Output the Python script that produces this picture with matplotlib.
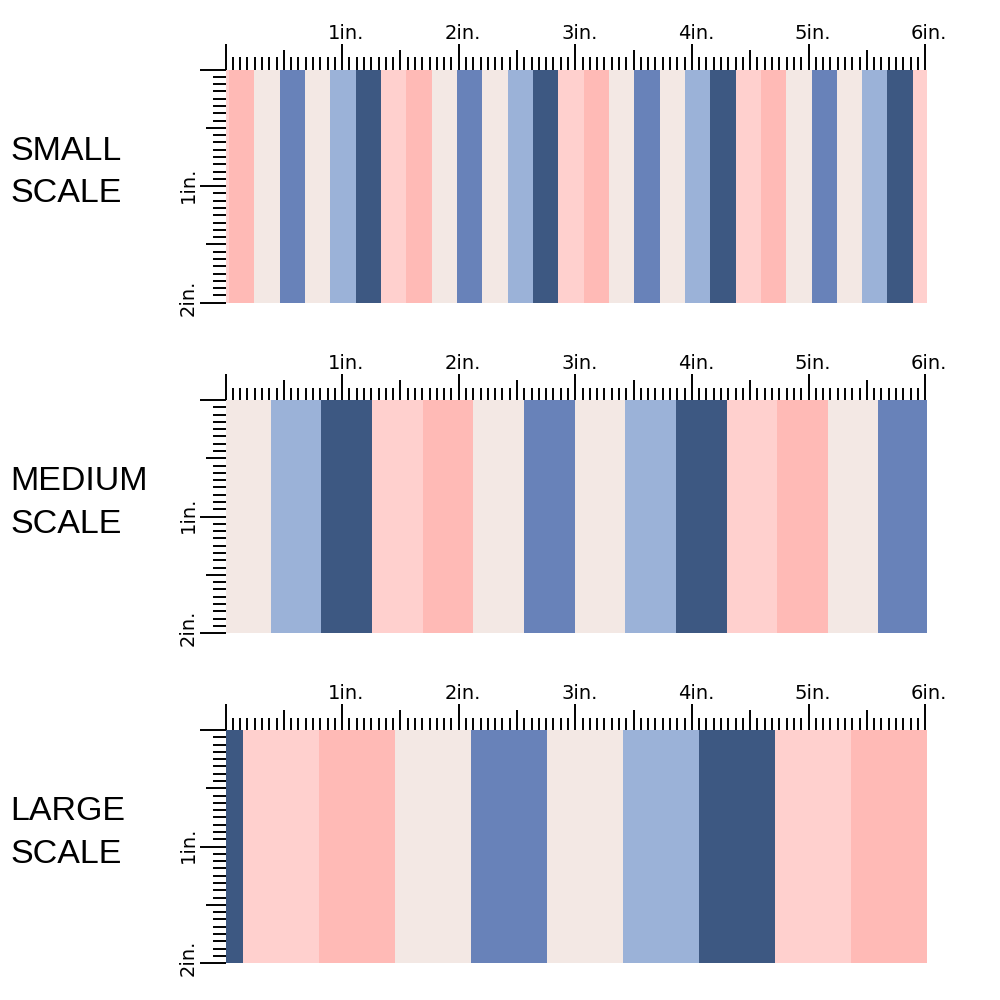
import numpy as np
import matplotlib
matplotlib.use("Agg")
from matplotlib import pyplot as plt

# stripe pattern (one repeat), left to right
pattern_colors = ["#FFD0CE", "#FFBAB6", "#F3E8E4", "#6882B9", "#F3E8E4", "#9BB2D8", "#3D5882"]

# the three swatches
scale_names = [["SMALL", "SCALE"], ["MEDIUM", "SCALE"], ["LARGE", "SCALE"]]
stripe_width = [0.2172, 0.4344, 0.6516]   # inches per stripe
pattern_start = [-0.187, 1.256, 0.150]    # where a light pink stripe begins (in.)
swatch_w = 6.014                           # inches
swatch_h = 2.0

# ruler
ruler_x_in = [1, 2, 3, 4, 5, 6]
ruler_y_in = [1, 2]
ruler_step = 1 / 16

PX = 116.6                  # pixels per inch in the picture
X0 = 225.5                  # left edge of swatches (px)
tops = [69.5, 400, 730]     # top edge of each swatch (px)

fig = plt.figure(figsize=(10, 10), dpi=100)

def tick_len(v):
    k = int(round(v / ruler_step))
    if k % 16 == 0:
        return 26 / PX
    if k % 8 == 0:
        return 20 / PX
    return 12.5 / PX

for i, T in enumerate(tops):
    left, right, up, down = 160, 960, 60, 260
    ax = fig.add_axes([left / 1000, 1 - (T + down) / 1000, (right - left) / 1000, (up + down) / 1000])
    ax.set_xlim((left - X0) / PX, (right - X0) / PX)
    ax.set_ylim(down / PX, -up / PX)
    ax.axis("off")

    # stripes
    w = stripe_width[i]
    k = int(np.floor(-pattern_start[i] / w)) - 1
    while pattern_start[i] + k * w < swatch_w:
        a = max(pattern_start[i] + k * w, 0)
        b = min(pattern_start[i] + (k + 1) * w, swatch_w)
        if b > a:
            ax.bar(a, swatch_h, width=b - a, bottom=0, align="edge",
                   color=pattern_colors[k % len(pattern_colors)], linewidth=0)
        k += 1

    # top ruler
    xs = np.arange(0, max(ruler_x_in) + ruler_step / 2, ruler_step)
    ax.vlines(xs, 0, [-tick_len(v) for v in xs], color="black", linewidth=1.4)
    for v in ruler_x_in:
        ax.text(v + 4 / PX, -31 / PX, f"{v}in.", ha="center", va="baseline",
                fontsize=14, family="DejaVu Sans", color="black")

    # left ruler
    ys = np.arange(0, max(ruler_y_in) + ruler_step / 2, ruler_step)
    ax.hlines(ys, [-tick_len(v) for v in ys], 0, color="black", linewidth=1.4)
    for v in ruler_y_in:
        dy = -1.5 if v < max(ruler_y_in) else -5
        ax.text(-37 / PX, v + dy / PX, f"{v}in.", ha="center", va="center", rotation=90,
                fontsize=14, family="DejaVu Sans", color="black")

    # scale name
    for j, line in enumerate(scale_names[i]):
        fig.text(10 / 1000, 1 - (T + 90.5 + 42.5 * j) / 1000, line, ha="left", va="baseline",
                 fontsize=24.5, family="Liberation Sans", color="black")

fig.savefig("out.png", dpi=100, facecolor="white")
